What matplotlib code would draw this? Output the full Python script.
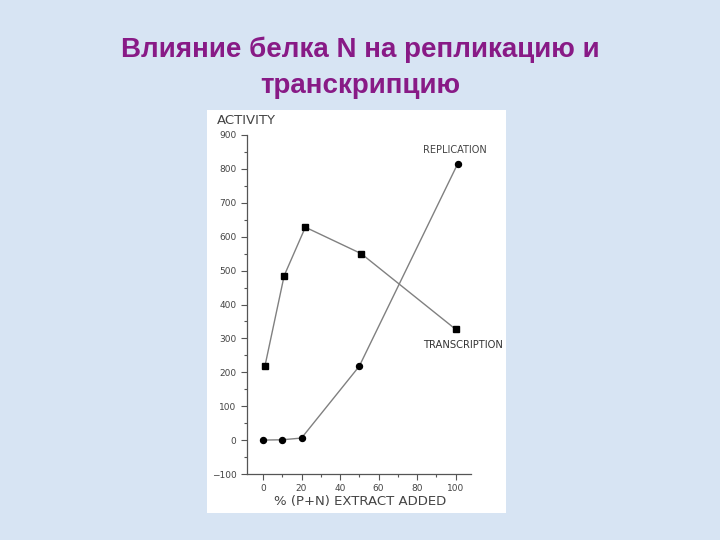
import matplotlib.pyplot as plt
from matplotlib.patches import Rectangle

# data
tr_x = [1, 11, 22, 51, 100]
tr_y = [218, 485, 628, 550, 327]
rep_x = [0, 10, 20, 50, 101]
rep_y = [0, 1, 6, 218, 814]

fig = plt.figure(figsize=(7.2, 5.4), dpi=100)
fig.patch.set_facecolor("#d7e4f3")

# white panel of the pasted figure
fig.patches.append(Rectangle((207 / 720, 1 - 513 / 540), 299 / 720, 403 / 540,
                             transform=fig.transFigure, facecolor="white",
                             edgecolor="none", zorder=-1))

fig.text(0.5, 1 - 50 / 540, "Влияние белка N на репликацию и", ha="center", va="center",
         fontsize=20, fontweight="bold", color="#881a86", family="Liberation Sans")
fig.text(0.5, 1 - 86 / 540, "транскрипцию", ha="center", va="center",
         fontsize=20, fontweight="bold", color="#881a86", family="Liberation Sans")

ax = fig.add_axes([247 / 720, 1 - 474 / 540, 224 / 720, 339 / 540])
ax.set_zorder(2)
ax.patch.set_visible(False)
ax.plot(tr_x, tr_y, color="#808080", lw=1, marker="s", ms=4.3, mfc="black", mec="black")
ax.plot(rep_x, rep_y, color="#808080", lw=1, marker="o", ms=4.3, mfc="black", mec="black")

ax.set_xlim(-8.3, 108)
ax.set_ylim(-100, 900)
ax.set_xticks(range(0, 101, 20))
ax.set_xticks(range(10, 101, 20), minor=True)
ax.set_yticks(range(-100, 901, 100))
ax.set_yticks(range(-50, 901, 100), minor=True)
for s in ["top", "right"]:
    ax.spines[s].set_visible(False)
for s in ["left", "bottom"]:
    ax.spines[s].set_color("#555555")
    ax.spines[s].set_linewidth(0.9)
ax.tick_params(which="both", direction="out", colors="#555555", labelsize=6.5,
               labelcolor="#444444", width=0.8)
ax.tick_params(which="major", length=4)
ax.tick_params(which="minor", length=2.5)

fig.text(217 / 720, 1 - 120 / 540, "ACTIVITY", ha="left", va="center", fontsize=9.5,
         color="#444444")
fig.text(360 / 720, 1 - 502 / 540, "% (P+N) EXTRACT ADDED", ha="center", va="center",
         fontsize=9.5, color="#444444")
fig.text(454.5 / 720, 1 - 150 / 540, "REPLICATION", ha="center", va="center", fontsize=7,
         color="#444444")
fig.text(463 / 720, 1 - 345 / 540, "TRANSCRIPTION", ha="center", va="center", fontsize=7.2,
         color="#333333")

plt.savefig("out.png", dpi=100)
